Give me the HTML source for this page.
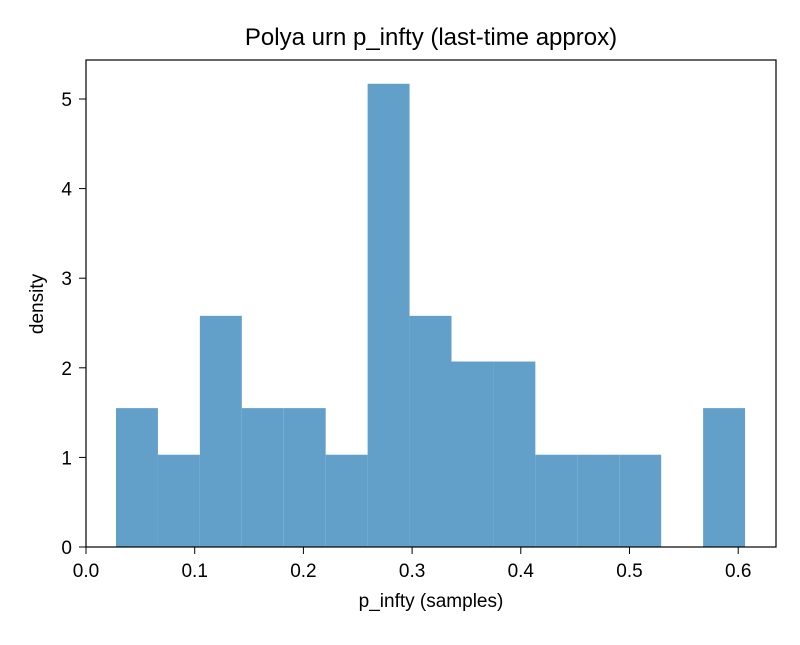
<!DOCTYPE html>
<html><head><meta charset="utf-8"><style>
body{margin:0;background:#fff;font-family:"Liberation Sans","DejaVu Sans",sans-serif;}
</style></head><body>
<svg width="800" height="640" xmlns="http://www.w3.org/2000/svg">
<rect width="800" height="640" fill="#fff"/>
<text x="431" y="45" font-size="24" text-anchor="middle" fill="#000">Polya urn p_infty (last-time approx)</text>
<g id="bars"></g>
<rect x="86" y="60" width="690" height="487" fill="none" stroke="#000" stroke-width="1.2"/>
<g id="xticks"></g>
<g id="yticks"></g>
<text x="431" y="607" font-size="19" text-anchor="middle">p_infty (samples)</text>
<text x="43" y="304" font-size="19" text-anchor="middle" transform="rotate(-90 43 304)">density</text>
</svg>
<script>
const binStart = 0.0276;
const binEnd = 0.6063;
const densities = [1.55, 1.03, 2.58, 1.55, 1.55, 1.03, 5.17, 2.58, 2.07, 2.07, 1.03, 1.03, 1.03, 0, 1.55];
const xTicks = [0.0, 0.1, 0.2, 0.3, 0.4, 0.5, 0.6];
const xTickLabels = ["0.0", "0.1", "0.2", "0.3", "0.4", "0.5", "0.6"];
const yTicks = [0, 1, 2, 3, 4, 5];
const yTickLabels = ["0", "1", "2", "3", "4", "5"];

const NS = "http://www.w3.org/2000/svg";
const X = v => 86 + v * 1087;
const Y = v => 547 - v * 89.6;
const bars = document.getElementById('bars');
const w = (binEnd - binStart) / densities.length;
densities.forEach((d, i) => {
  if (d <= 0) return;
  const r = document.createElementNS(NS, 'rect');
  const x0 = X(binStart + i * w), x1 = X(binStart + (i + 1) * w);
  r.setAttribute('x', x0); r.setAttribute('width', x1 - x0);
  r.setAttribute('y', Y(d)); r.setAttribute('height', Y(0) - Y(d));
  r.setAttribute('fill', '#62a0ca');
  
  
  bars.appendChild(r);
});
const xg = document.getElementById('xticks');
xTicks.forEach((t, i) => {
  const l = document.createElementNS(NS, 'line');
  l.setAttribute('x1', X(t)); l.setAttribute('x2', X(t));
  l.setAttribute('y1', 547); l.setAttribute('y2', 554);
  l.setAttribute('stroke', '#000');
  
  
  xg.appendChild(l);
  const tx = document.createElementNS(NS, 'text');
  tx.setAttribute('x', X(t)); tx.setAttribute('y', 577);
  tx.setAttribute('font-size', '19'); tx.setAttribute('text-anchor', 'middle');
  tx.textContent = xTickLabels[i];
  
  
  xg.appendChild(tx);
});
const yg = document.getElementById('yticks');
yTicks.forEach((t, i) => {
  const l = document.createElementNS(NS, 'line');
  l.setAttribute('x1', 79); l.setAttribute('x2', 86);
  l.setAttribute('y1', Y(t)); l.setAttribute('y2', Y(t));
  l.setAttribute('stroke', '#000');
  
  
  yg.appendChild(l);
  const tx = document.createElementNS(NS, 'text');
  tx.setAttribute('x', 72); tx.setAttribute('y', Y(t) + 7);
  tx.setAttribute('font-size', '19'); tx.setAttribute('text-anchor', 'end');
  tx.textContent = yTickLabels[i];
  
  
  yg.appendChild(tx);
});
</script>
</body></html>
